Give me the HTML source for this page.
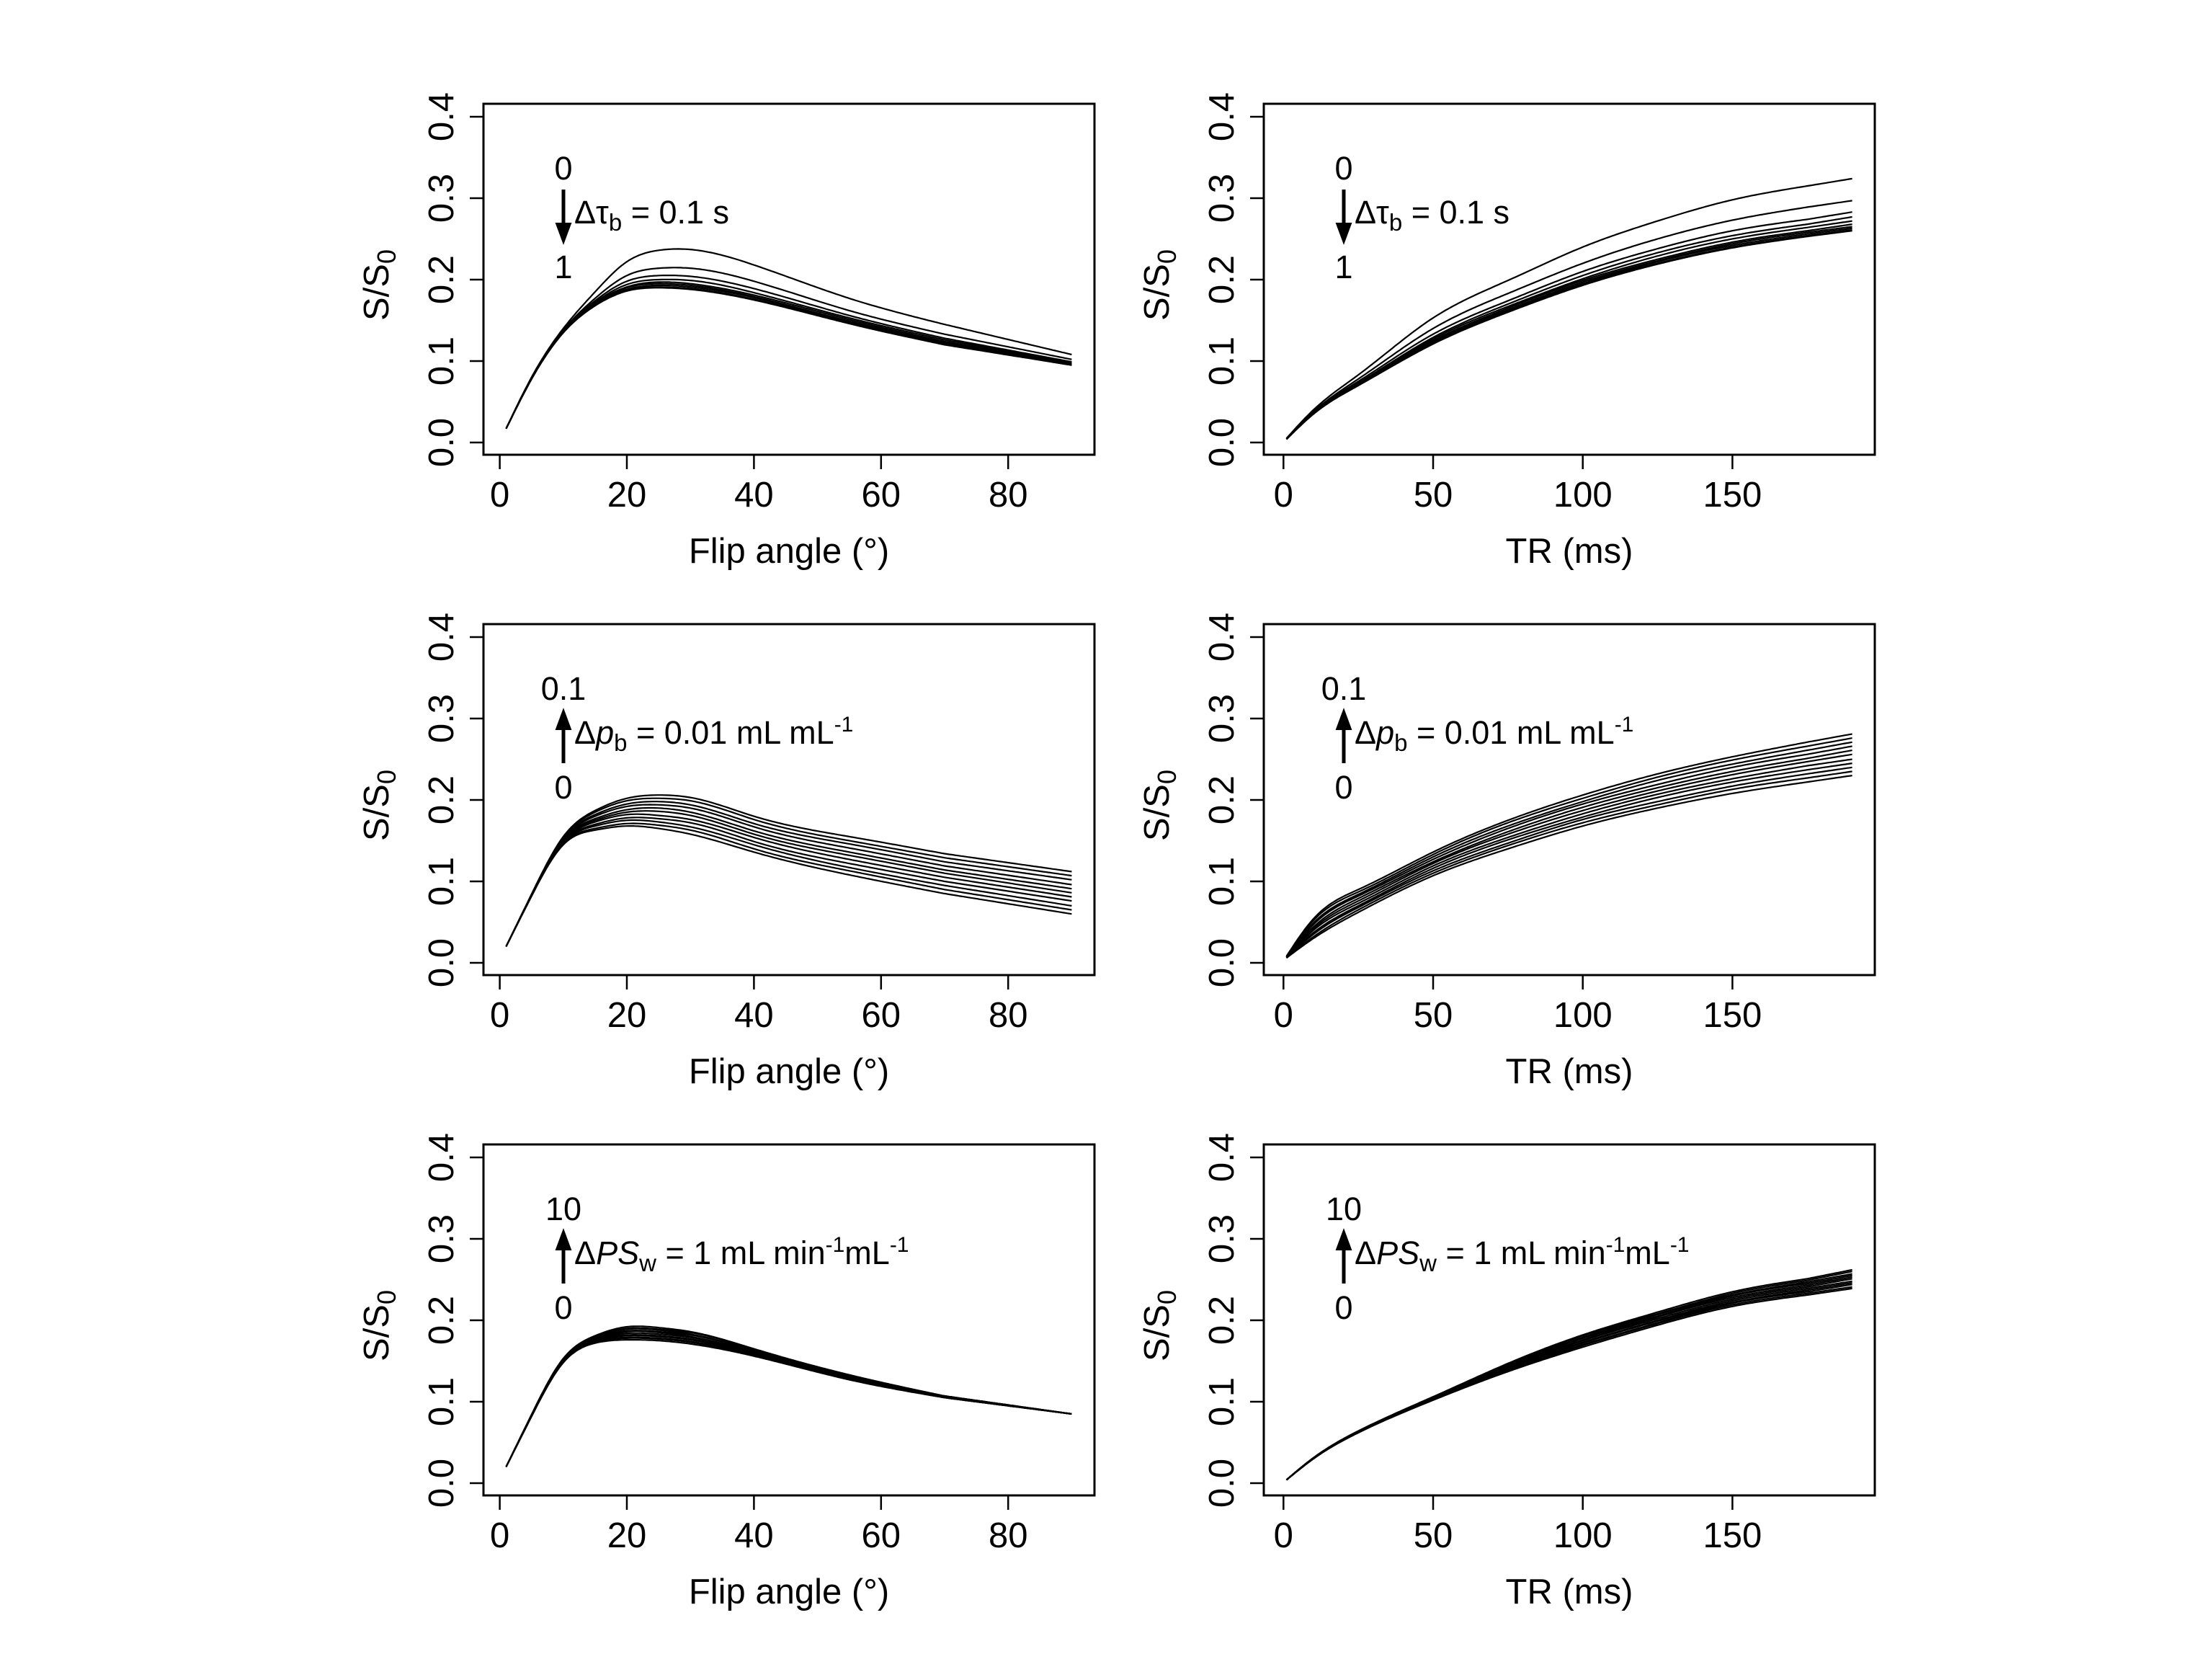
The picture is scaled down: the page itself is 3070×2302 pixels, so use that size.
<!DOCTYPE html>
<html><head><meta charset="utf-8"><style>
html,body{margin:0;padding:0;background:#fff;}
svg{display:block;font-family:"Liberation Sans",Arial,sans-serif;}
</style></head><body>
<svg id="fig" width="3070" height="2302" viewBox="0 0 3070 2302" xmlns="http://www.w3.org/2000/svg">
<rect width="3070" height="2302" fill="#fff"/>
</svg>
<script>
// ---- data ----
const flipX = [1,5,10,15,20,25,30,40,55,70,90];
const trX = [1,10,25,50,75,100,125,150,175,190];
const flipTicks = [0,20,40,60,80];
const trTicks = [0,50,100,150];
const yTicks = [0.0,0.1,0.2,0.3,0.4];
const yTickLabels = ["0.0","0.1","0.2","0.3","0.4"];

const flipTau = [
 [.017,.080,.140,.185,.222,.236,.237,.218,.177,.145,.108],
 [.017,.079,.138,.177,.205,.214,.214,.198,.162,.133,.102],
 [.017,.079,.137,.174,.198,.205,.204,.189,.156,.128,.099],
 [.017,.078,.136,.172,.194,.200,.199,.184,.153,.126,.098],
 [.017,.078,.136,.171,.191,.197,.195,.181,.151,.124,.097],
 [.017,.078,.135,.170,.190,.195,.193,.179,.149,.123,.096],
 [.017,.078,.135,.169,.188,.193,.191,.178,.148,.122,.096],
 [.017,.078,.135,.168,.187,.191,.189,.176,.147,.121,.095],
 [.017,.078,.135,.168,.186,.190,.188,.175,.146,.120,.095]
];
const trTau = [
 [.005,.040,.083,.153,.199,.240,.272,.298,.315,.324],
 [.005,.038,.078,.140,.183,.220,.250,.273,.289,.297],
 [.004,.037,.075,.133,.174,.210,.238,.260,.274,.283],
 [.004,.036,.073,.129,.170,.205,.233,.254,.268,.277],
 [.004,.036,.072,.127,.167,.201,.229,.250,.264,.272],
 [.004,.036,.072,.125,.165,.199,.225,.246,.260,.268],
 [.004,.035,.071,.124,.163,.197,.223,.244,.258,.265],
 [.004,.035,.071,.123,.162,.195,.222,.242,.256,.263],
 [.004,.035,.070,.122,.161,.194,.220,.240,.254,.261],
 [.004,.035,.070,.121,.160,.193,.219,.239,.253,.260]
];
const flipPb = [
 [.020,.082,.145,.163,.168,.165,.158,.136,.108,.085,.060],
 [.020,.082,.146,.165,.171,.169,.163,.140,.113,.090,.065],
 [.020,.082,.147,.168,.175,.173,.167,.145,.117,.095,.070],
 [.020,.083,.148,.170,.178,.177,.172,.149,.122,.100,.076],
 [.020,.083,.149,.173,.182,.181,.176,.154,.127,.105,.081],
 [.020,.083,.150,.175,.185,.186,.181,.158,.132,.110,.086],
 [.020,.083,.151,.177,.188,.190,.185,.162,.136,.114,.091],
 [.020,.083,.152,.180,.192,.194,.190,.167,.141,.119,.096],
 [.020,.084,.153,.182,.195,.198,.194,.171,.146,.124,.102],
 [.020,.084,.154,.185,.199,.202,.199,.176,.150,.129,.107],
 [.020,.084,.155,.187,.202,.206,.203,.180,.155,.134,.112]
];
const trPb = [
 [.006,.030,.062,.107,.140,.168,.190,.208,.222,.230],
 [.006,.032,.065,.110,.144,.172,.194,.213,.227,.235],
 [.006,.035,.068,.113,.147,.176,.198,.217,.232,.240],
 [.007,.037,.070,.116,.151,.179,.203,.222,.237,.245],
 [.007,.040,.073,.119,.154,.183,.207,.226,.242,.250],
 [.007,.042,.076,.122,.158,.187,.211,.231,.247,.256],
 [.007,.044,.079,.124,.161,.191,.215,.235,.251,.261],
 [.007,.047,.082,.127,.165,.195,.219,.240,.256,.266],
 [.008,.049,.084,.130,.168,.198,.224,.244,.261,.271],
 [.008,.052,.087,.133,.172,.202,.228,.249,.266,.276],
 [.008,.054,.090,.136,.175,.206,.232,.253,.271,.281]
];
const flipPs = [
 [.020,.082,.148,.172,.176,.175,.171,.156,.127,.105,.085],
 [.020,.082,.149,.173,.178,.177,.173,.157,.128,.105,.085],
 [.020,.082,.149,.174,.179,.178,.174,.158,.128,.105,.085],
 [.020,.083,.150,.175,.181,.180,.176,.159,.129,.106,.085],
 [.020,.083,.150,.176,.182,.181,.177,.160,.129,.106,.085],
 [.020,.083,.151,.177,.184,.183,.179,.161,.130,.106,.085],
 [.020,.083,.151,.177,.186,.185,.180,.161,.131,.106,.085],
 [.020,.083,.152,.178,.187,.186,.182,.162,.131,.106,.085],
 [.020,.084,.152,.179,.189,.188,.183,.163,.132,.107,.085],
 [.020,.084,.153,.180,.190,.189,.185,.164,.132,.107,.085],
 [.020,.084,.153,.181,.192,.191,.186,.165,.133,.107,.085]
];
const trPs = [
 [.004,.030,.062,.102,.137,.167,.194,.217,.231,.239],
 [.004,.030,.062,.102,.138,.169,.196,.219,.233,.241],
 [.004,.030,.062,.103,.139,.170,.197,.221,.235,.244],
 [.004,.030,.063,.103,.140,.172,.199,.222,.237,.246],
 [.004,.030,.063,.104,.141,.173,.200,.224,.239,.248],
 [.004,.031,.063,.104,.142,.175,.202,.226,.241,.251],
 [.004,.031,.063,.104,.143,.176,.204,.228,.243,.253],
 [.004,.031,.063,.105,.144,.178,.205,.230,.245,.255],
 [.004,.031,.064,.105,.145,.179,.207,.231,.247,.257],
 [.004,.031,.064,.106,.146,.181,.208,.233,.249,.260],
 [.004,.031,.064,.106,.147,.182,.210,.235,.251,.262]
];

// ---- drawing ----
const NS = "http://www.w3.org/2000/svg";
const svg = document.getElementById('fig');
const BW = 848, BH = 487;
function el(tag, attrs, parent) {
  const e = document.createElementNS(NS, tag);
  for (const k in attrs) e.setAttribute(k, attrs[k]);
  parent.appendChild(e);
  return e;
}
function splineSample(xs, ys, n) {
  const m = xs.length, h = [], al = [], l = [1], mu = [0], z = [0], c = new Array(m).fill(0), b = [], d = [];
  for (let i = 0; i < m - 1; i++) h.push(xs[i+1] - xs[i]);
  for (let i = 1; i < m - 1; i++) al[i] = 3/h[i]*(ys[i+1]-ys[i]) - 3/h[i-1]*(ys[i]-ys[i-1]);
  for (let i = 1; i < m - 1; i++) {
    l[i] = 2*(xs[i+1]-xs[i-1]) - h[i-1]*mu[i-1];
    mu[i] = h[i]/l[i];
    z[i] = (al[i] - h[i-1]*z[i-1]) / l[i];
  }
  for (let j = m - 2; j >= 0; j--) {
    c[j] = (j === m-2 ? 0 : z[j]) - mu[j]*c[j+1];
    if (j === 0) c[0] = 0;
    b[j] = (ys[j+1]-ys[j])/h[j] - h[j]*(c[j+1] + 2*c[j])/3;
    d[j] = (c[j+1]-c[j])/(3*h[j]);
  }
  const out = [];
  for (let k = 0; k <= n; k++) {
    const x = xs[0] + (xs[m-1]-xs[0]) * k / n;
    let j = 0;
    while (j < m - 2 && x > xs[j+1]) j++;
    const dx = x - xs[j];
    out.push([x, ys[j] + b[j]*dx + c[j]*dx*dx + d[j]*dx*dx*dx]);
  }
  return out;
}

function panel(name, ox, oy, isFlip, xs, series, ann) {
  const g = el('g', {transform: `translate(${ox},${oy})`}, svg);
  
  
  const xScale = isFlip ? (v => 22.6 + v * 8.82) : (v => 27.3 + v * 4.154);
  const yScale = v => 470 - v * 1130;
  const ticks = isFlip ? flipTicks : trTicks;

  const cg = el('g', {fill: 'none', stroke: '#000', 'stroke-width': 2.2, 'stroke-linejoin': 'round'}, g);
  
  
  series.forEach((vals, i) => {
    const pts = splineSample(xs, vals, 240).map(p => xScale(p[0]).toFixed(1) + ',' + yScale(p[1]).toFixed(1));
    const p = el('polyline', {points: pts.join(' ')}, cg);
    
    
  });

  const box = el('rect', {x: 0, y: 0, width: BW, height: BH, fill: 'none', stroke: '#000', 'stroke-width': 3}, g);
  
  

  ticks.forEach(t => {
    const x = xScale(t);
    const tk = el('line', {x1: x, y1: BH, x2: x, y2: BH + 20, stroke: '#000', 'stroke-width': 2.5}, g);
    
    
    const tl = el('text', {x: x, y: 559, 'text-anchor': 'middle', 'font-size': 49}, g);
    tl.textContent = String(t);
    
    
  });
  yTicks.forEach((t, i) => {
    const y = yScale(t);
    const tk = el('line', {x1: 0, y1: y, x2: -19, y2: y, stroke: '#000', 'stroke-width': 2.5}, g);
    
    
    const tl = el('text', {x: 0, y: 0, 'text-anchor': 'middle', 'font-size': 49, transform: `translate(-42,${y}) rotate(-90)`}, g);
    tl.textContent = yTickLabels[i];
    
    
  });
  const xt = el('text', {x: BW / 2, y: 637, 'text-anchor': 'middle', 'font-size': 49}, g);
  xt.textContent = isFlip ? 'Flip angle (°)' : 'TR (ms)';
  
  
  const yt = el('text', {x: 0, y: 0, 'text-anchor': 'middle', 'font-size': 49, transform: `translate(-132,${BH/2 + 8}) rotate(-90)`}, g);
  yt.innerHTML = 'S/S<tspan font-size="36" dy="10">0</tspan>';
  
  

  const ax = ann.ax;
  const a = el('g', {}, g);
  
  
  const t1 = el('text', {x: ax, y: 105, 'text-anchor': 'middle', 'font-size': 45}, a);
  t1.textContent = ann.top;
  const t2 = el('text', {x: ax, y: 242, 'text-anchor': 'middle', 'font-size': 45}, a);
  t2.textContent = ann.bottom;
  if (ann.down) {
    el('line', {x1: ax, y1: 119, x2: ax, y2: 175, stroke: '#000', 'stroke-width': 5}, a);
    el('path', {d: `M${ax-10},${166} L${ax},${193} L${ax+10},${166} Z`, fill: '#000', stroke: '#000', 'stroke-width': 2}, a);
  } else {
    el('line', {x1: ax, y1: 193, x2: ax, y2: 137, stroke: '#000', 'stroke-width': 5}, a);
    el('path', {d: `M${ax-10},${146} L${ax},${119} L${ax+10},${146} Z`, fill: '#000', stroke: '#000', 'stroke-width': 2}, a);
  }
  const lab = el('text', {x: ax + 15, y: 166, 'font-size': 45}, a);
  lab.innerHTML = ann.label;
  
  
}

const annTau = {ax: 111, top: '0', bottom: '1', down: true,
  label: 'Δτ<tspan font-size="33" dy="10">b</tspan><tspan dy="-10"> = 0.1 s</tspan>'};
const annPb = {ax: 111, top: '0.1', bottom: '0', down: false,
  label: 'Δ<tspan font-style="italic">p</tspan><tspan font-size="33" dy="10">b</tspan><tspan dy="-10"> = 0.01 mL mL</tspan><tspan font-size="30" dy="-17">-1</tspan>'};
const annPs = {ax: 111, top: '10', bottom: '0', down: false,
  label: 'Δ<tspan font-style="italic">PS</tspan><tspan font-size="33" dy="10">w</tspan><tspan dy="-10"> = 1 mL min</tspan><tspan font-size="30" dy="-17">-1</tspan><tspan dy="17">mL</tspan><tspan font-size="30" dy="-17">-1</tspan>'};

panel('panel-flip-tau', 671, 144, true, flipX, flipTau, annTau);
panel('panel-tr-tau', 1754, 144, false, trX, trTau, annTau);
panel('panel-flip-pb', 671, 866, true, flipX, flipPb, annPb);
panel('panel-tr-pb', 1754, 866, false, trX, trPb, annPb);
panel('panel-flip-ps', 671, 1588, true, flipX, flipPs, annPs);
panel('panel-tr-ps', 1754, 1588, false, trX, trPs, annPs);
</script>
</body></html>
